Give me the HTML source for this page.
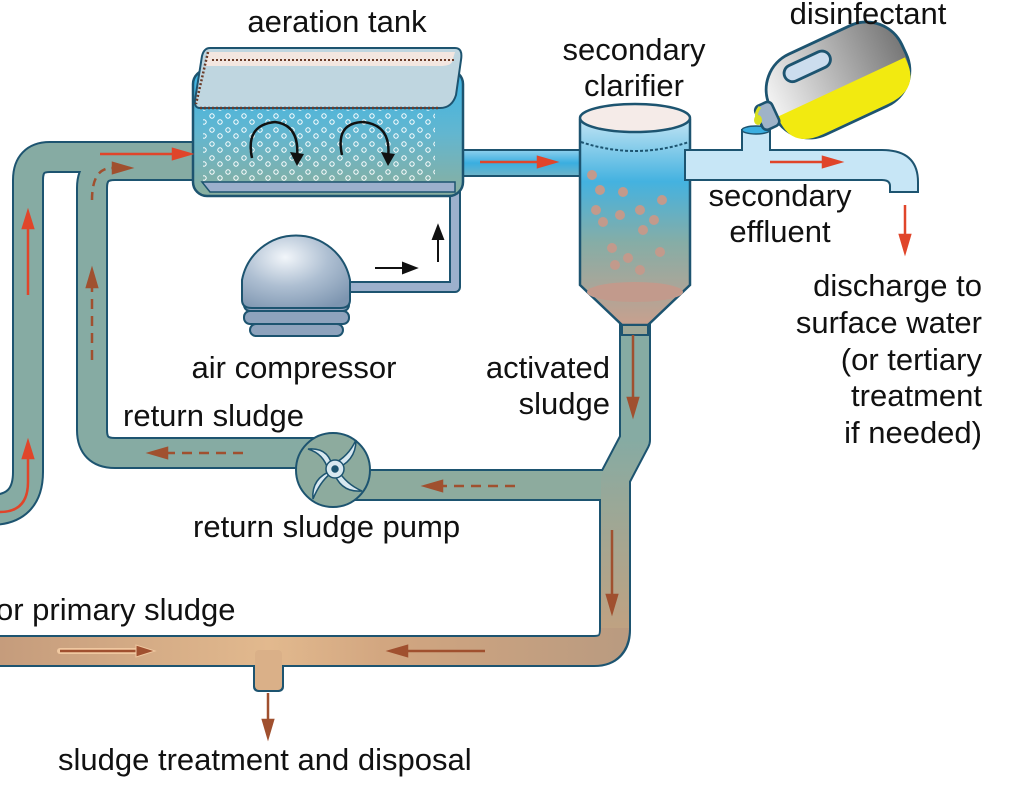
<!DOCTYPE html>
<html><head><meta charset="utf-8"><style>
html,body{margin:0;padding:0;background:#fff;}
svg{display:block;}
text{font-family:"Liberation Sans",sans-serif;font-size:31px;fill:#111;}
</style></head><body>
<svg width="1011" height="807" viewBox="0 0 1011 807" xmlns="http://www.w3.org/2000/svg">
<defs>
<linearGradient id="vgr" gradientUnits="userSpaceOnUse" x1="0" y1="440" x2="0" y2="660">
<stop offset="0" stop-color="#86aba3"/><stop offset="1" stop-color="#c9a07c"/></linearGradient>
<linearGradient id="hgr" gradientUnits="userSpaceOnUse" x1="0" y1="0" x2="640" y2="0">
<stop offset="0" stop-color="#c59c7c"/><stop offset="0.42" stop-color="#e2b98e"/><stop offset="0.6" stop-color="#d2a680"/><stop offset="1" stop-color="#b89a80"/></linearGradient>
<linearGradient id="tank" x1="0" y1="0" x2="0" y2="1">
<stop offset="0" stop-color="#3cb4e4"/><stop offset="0.5" stop-color="#62b6d0"/><stop offset="1" stop-color="#8aaf9e"/></linearGradient>
<linearGradient id="clar" x1="0" y1="0" x2="0" y2="1">
<stop offset="0" stop-color="#bfe3f3"/><stop offset="0.3" stop-color="#44b2e0"/><stop offset="0.6" stop-color="#86ada6"/><stop offset="1" stop-color="#c8a08e"/></linearGradient>
<linearGradient id="blue" x1="0" y1="0" x2="0" y2="1">
<stop offset="0" stop-color="#8fd0ee"/><stop offset="0.5" stop-color="#3aaee0"/><stop offset="1" stop-color="#6fb4c8"/></linearGradient>
<radialGradient id="dome" cx="0.4" cy="0.3" r="0.8">
<stop offset="0" stop-color="#f2f6fa"/><stop offset="0.5" stop-color="#aebfd2"/><stop offset="1" stop-color="#7d95b0"/></radialGradient>
<linearGradient id="jug" x1="0" y1="0" x2="1" y2="0">
<stop offset="0" stop-color="#f4f4f4"/><stop offset="1" stop-color="#777"/></linearGradient>
<pattern id="bub" width="16" height="14" patternUnits="userSpaceOnUse">
<circle cx="4" cy="4" r="2.2" fill="none" stroke="#fff" stroke-width="1"/>
<circle cx="12" cy="10" r="2.2" fill="none" stroke="#fff" stroke-width="1"/>
</pattern>
</defs>

<g fill="none" stroke="#1d5470" stroke-width="32" stroke-linejoin="round">
<path d="M -10 510 Q 28 510 28 472 L 28 180 Q 28 157 50 157 L 200 157"/>
<path d="M 200 165 L 115 165 Q 92 165 92 188 L 92 430 Q 92 453 115 453 L 320 453"/>
<path d="M 335 485 L 615 485"/>
<path d="M 635 310 L 635 440 L 615 478 L 615 630 Q 615 651 594 651 L -10 651"/>
</g>
<rect x="253" y="645" width="31" height="47" rx="5" fill="#1d5470"/>
<g fill="none" stroke-width="28" stroke-linejoin="round">
<path stroke="#86aba3" d="M -10 510 Q 28 510 28 472 L 28 180 Q 28 157 50 157 L 200 157"/>
<path stroke="#86aba3" d="M 200 165 L 115 165 Q 92 165 92 188 L 92 430 Q 92 453 115 453 L 320 453"/>
<path stroke="#8dab9e" d="M 335 485 L 615 485"/>
<path stroke="url(#vgr)" d="M 635 310 L 635 440 L 615 478 L 615 630"/>
<path stroke="url(#hgr)" d="M 615 628 Q 615 651 594 651 L -10 651"/>
</g>
<rect x="255" y="650" width="27" height="40" rx="4" fill="#dab088"/>

<circle cx="333" cy="470" r="37" fill="#8dab9e" stroke="#1d5470" stroke-width="2"/>
<g fill="#d8e8f0" stroke="#1d5470" stroke-width="1.5">
<path d="M333 470 Q 330 447 308 449 Q 324 454 328 470Z"/>
<path d="M333 470 Q 356 462 356 440 Q 348 457 333 464Z"/>
<path d="M333 470 Q 340 493 362 491 Q 346 484 338 470Z"/>
<path d="M333 470 Q 311 478 313 499 Q 320 482 330 474Z"/>
<circle cx="335" cy="469" r="9"/><circle cx="335" cy="469" r="3" fill="#1d5470"/>
</g>

<rect x="445" y="150" width="142" height="26" fill="url(#blue)" stroke="#1d5470" stroke-width="2"/>

<path d="M 205 188 L 455 188 L 455 287 L 345 287" fill="none" stroke="#1d5470" stroke-width="12" stroke-linejoin="round"/>
<path d="M 205 188 L 455 188 L 455 287 L 345 287" fill="none" stroke="#9cb0cc" stroke-width="8" stroke-linejoin="round"/>

<rect x="193" y="70" width="270" height="126" rx="14" fill="url(#tank)" stroke="#1d5470" stroke-width="2.5"/>
<rect x="203" y="110" width="232" height="78" fill="url(#bub)"/>
<path d="M 202 182 L 455 182 L 455 192 L 210 192 Z" fill="#9cb0cc" stroke="#1d5470" stroke-width="1.5"/>
<path d="M 210 48 L 455 48 Q 463 48 461 60 L 456 95 Q 452 108 440 108 L 200 108 Q 194 108 195 100 L 202 56 Q 204 48 210 48 Z" fill="#bfd6e0" stroke="#1d5470" stroke-width="2"/>
<path d="M 208 52 L 455 52 L 452 62 Q 450 66 440 66 L 205 66 Z" fill="#f3e6e0"/>
<path d="M 200 108 L 440 108" stroke="#6b3b28" stroke-width="2.5" stroke-dasharray="2 2" fill="none"/>
<path d="M 208 52 L 196 104" stroke="#6b3b28" stroke-width="2.5" stroke-dasharray="2 2" fill="none"/>
<path d="M 212 60 L 456 60" stroke="#6b3b28" stroke-width="2" stroke-dasharray="2 2" fill="none"/>
<g fill="none" stroke="#111" stroke-width="2.5">
<path d="M 252 158 Q 245 125 275 122 Q 300 125 297 158"/>
<path d="M 342 155 Q 335 123 363 122 Q 392 125 388 158"/>
</g>
<path d="M297 166 L 290 152 L 304 154Z" fill="#111"/>
<path d="M388 166 L 381 152 L 395 154Z" fill="#111"/>

<rect x="244" y="298" width="105" height="13" rx="6" fill="#8ea3bd" stroke="#1d5470" stroke-width="2"/>
<rect x="244" y="311" width="105" height="13" rx="6" fill="#8ea3bd" stroke="#1d5470" stroke-width="2"/>
<rect x="250" y="324" width="93" height="12" rx="6" fill="#8ea3bd" stroke="#1d5470" stroke-width="2"/>
<path d="M 242 300 L 242 280 A 55 55 0 0 1 350 280 L 350 300 Q 350 308 340 308 L 252 308 Q 242 308 242 300 Z" fill="url(#dome)" stroke="#1d5470" stroke-width="2"/>

<path d="M 580 120 L 580 285 L 622 325 L 648 325 L 690 285 L 690 120 Z" fill="url(#clar)" stroke="#1d5470" stroke-width="2.5"/>
<rect x="622" y="325" width="26" height="10" fill="#9fa898" stroke="#1d5470" stroke-width="2"/>
<ellipse cx="635" cy="118" rx="55" ry="14" fill="#f5ebe8" stroke="#1d5470" stroke-width="2.5"/>
<path d="M 581 142 Q 635 160 689 142" stroke="#1d5470" stroke-width="2" stroke-dasharray="3 2" fill="none"/>
<g fill="#c29a8c">
<circle cx="592" cy="175" r="5"/><circle cx="600" cy="190" r="5"/><circle cx="623" cy="192" r="5"/><circle cx="662" cy="200" r="5"/>
<circle cx="596" cy="210" r="5"/><circle cx="620" cy="215" r="5"/><circle cx="640" cy="210" r="5"/><circle cx="603" cy="222" r="5"/>
<circle cx="654" cy="220" r="5"/><circle cx="643" cy="230" r="5"/><circle cx="612" cy="248" r="5"/><circle cx="628" cy="258" r="5"/>
<circle cx="660" cy="252" r="5"/><circle cx="615" cy="265" r="5"/><circle cx="640" cy="270" r="5"/>
<ellipse cx="635" cy="292" rx="48" ry="10"/>
</g>

<path d="M 685 150 L 742 150 L 742 130 L 770 130 L 770 150 L 882 150 Q 918 150 918 182 L 918 192 L 890 192 L 890 186 Q 890 180 882 180 L 685 180 Z" fill="#c7e6f6" stroke="#1d5470" stroke-width="2"/>
<ellipse cx="756" cy="130" rx="14" ry="4" fill="#3aaee0" stroke="#1d5470" stroke-width="1.5"/>

<g transform="translate(838 80) rotate(-25) scale(1.3) translate(-828 -86)">
<rect x="772" y="52" width="112" height="68" rx="30" fill="url(#jug)" stroke="#1d5470" stroke-width="2.2"/>
<path d="M 774 92 L 882 92 L 882 95 Q 882 119 855 119 L 800 119 Q 774 119 774 95 Z" fill="#f2ea10"/>
<rect x="792" y="60" width="38" height="13" rx="6.5" fill="#cde" stroke="#1d5470" stroke-width="2.2"/>
<rect x="760" y="78" width="14" height="20" rx="4" fill="#9fb3c8" stroke="#1d5470" stroke-width="2"/>
</g>
<path d="M 760 107 Q 755 113 757 118" stroke="#d8e020" stroke-width="3" fill="none"/>
<ellipse cx="758" cy="120" rx="4" ry="5" fill="#d8e020"/>

<g stroke="#e0452a" stroke-width="2.5" fill="#e0452a">
<line x1="28" y1="295" x2="28" y2="225"/><path d="M28 212 L23 228 L33 228Z"/>
<path d="M 0 512 Q 28 512 28 482 L 28 455" fill="none"/><path d="M28 442 L23 458 L33 458Z"/>
<line x1="100" y1="154" x2="175" y2="154"/><path d="M190 154 L173 149 L173 159Z"/>
<line x1="480" y1="162" x2="540" y2="162"/><path d="M555 162 L538 157 L538 167Z"/>
<line x1="770" y1="162" x2="825" y2="162"/><path d="M840 162 L823 157 L823 167Z"/>
<line x1="905" y1="205" x2="905" y2="237"/><path d="M905 252 L900 235 L910 235Z"/>
</g>
<g stroke="#a0502f" stroke-width="2.5" fill="#a0502f">
<line x1="92" y1="360" x2="92" y2="285" stroke-dasharray="10 7"/><path d="M92 270 L87 287 L97 287Z"/>
<path d="M 92 200 Q 92 168 112 168" fill="none" stroke-dasharray="8 6"/><path d="M130 168 L113 163 L113 173Z"/>
<line x1="243" y1="453" x2="165" y2="453" stroke-dasharray="10 7"/><path d="M150 453 L167 448 L167 458Z"/>
<line x1="515" y1="486" x2="440" y2="486" stroke-dasharray="10 7"/><path d="M425 486 L442 481 L442 491Z"/>
<line x1="633" y1="335" x2="633" y2="400"/><path d="M633 415 L628 398 L638 398Z"/>
<line x1="612" y1="530" x2="612" y2="597"/><path d="M612 612 L607 595 L617 595Z"/>
<line x1="485" y1="651" x2="405" y2="651"/><path d="M390 651 L407 646 L407 656Z"/>
<line x1="268" y1="693" x2="268" y2="722"/><path d="M268 737 L263 720 L273 720Z"/>
</g>
<line x1="60" y1="651" x2="140" y2="651" stroke="#f0c8a0" stroke-width="6" stroke-linecap="round"/>
<line x1="60" y1="651" x2="140" y2="651" stroke="#a0502f" stroke-width="2.5"/>
<path d="M155 651 L136 645 L136 657Z" fill="#a0502f" stroke="#f0c8a0" stroke-width="1"/>
<g stroke="#111" stroke-width="2" fill="#111">
<line x1="375" y1="268" x2="405" y2="268"/><path d="M416 268 L403 263 L403 273Z"/>
<line x1="438" y1="262" x2="438" y2="238"/><path d="M438 226 L433 239 L443 239Z"/>
</g>

<text x="337" y="32" text-anchor="middle">aeration tank</text>
<text x="868" y="24" text-anchor="middle">disinfectant</text>
<text x="634" y="60" text-anchor="middle">secondary</text>
<text x="634" y="96" text-anchor="middle">clarifier</text>
<text x="780" y="206" text-anchor="middle">secondary</text>
<text x="780" y="242" text-anchor="middle">effluent</text>
<text x="982" y="296" text-anchor="end">discharge to</text>
<text x="982" y="333" text-anchor="end">surface water</text>
<text x="982" y="370" text-anchor="end">(or tertiary</text>
<text x="982" y="406" text-anchor="end">treatment</text>
<text x="982" y="443" text-anchor="end">if needed)</text>
<text x="294" y="378" text-anchor="middle">air compressor</text>
<text x="610" y="378" text-anchor="end">activated</text>
<text x="610" y="414" text-anchor="end">sludge</text>
<text x="123" y="426">return sludge</text>
<text x="193" y="537">return sludge pump</text>
<text x="-4" y="620">or primary sludge</text>
<text x="58" y="770">sludge treatment and disposal</text>
</svg>
</body></html>
